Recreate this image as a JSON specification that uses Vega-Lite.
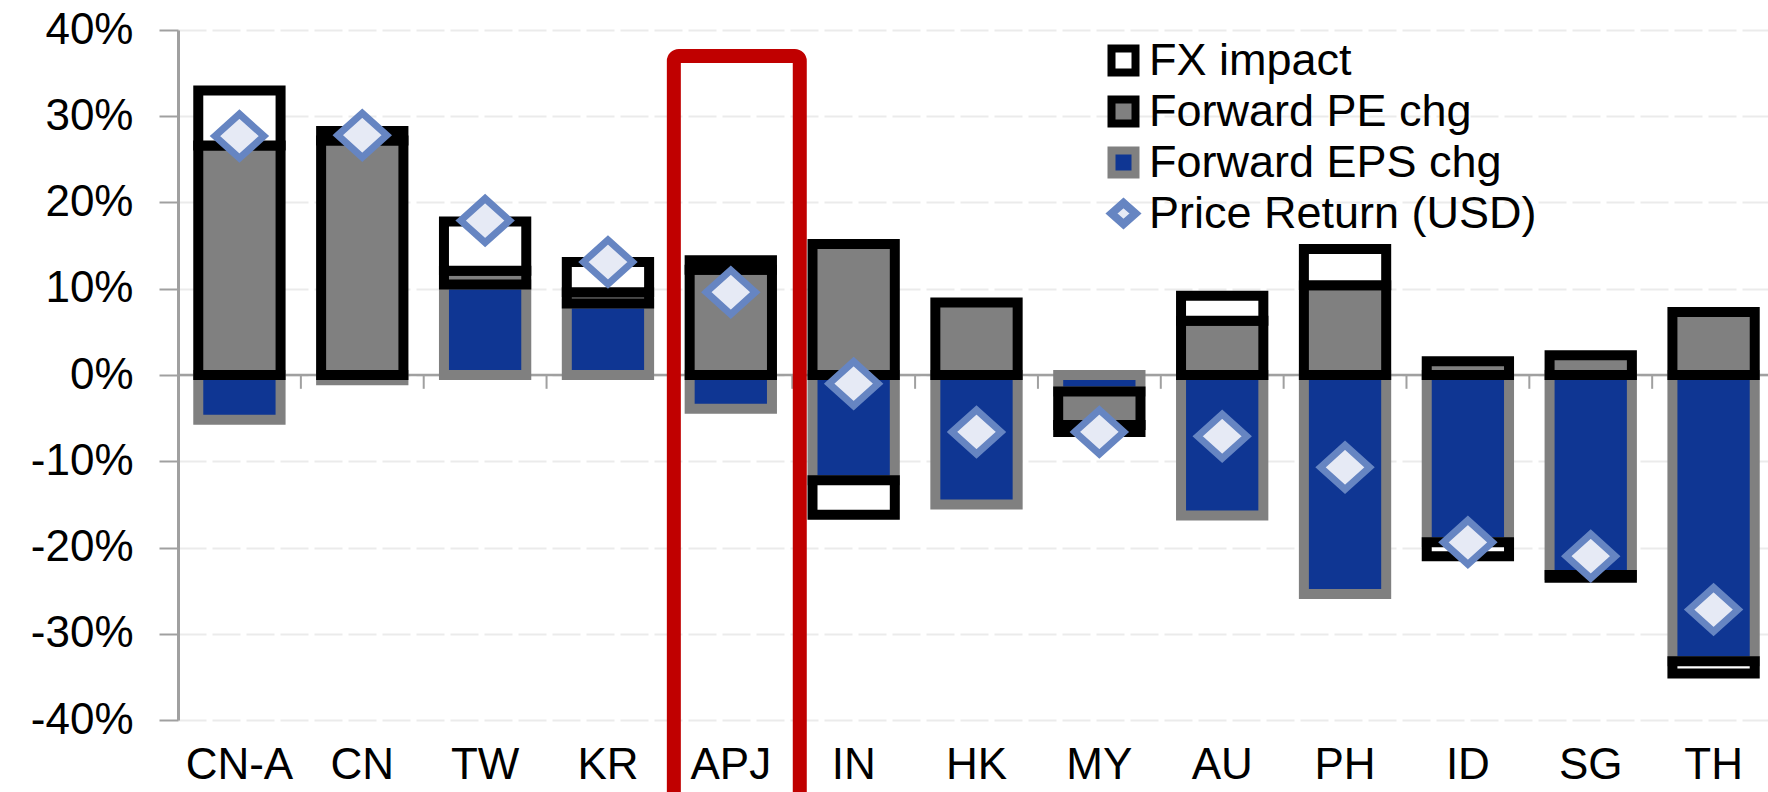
{
  "$schema": "https://vega.github.io/schema/vega-lite/v6.json",
  "width": 1597,
  "height": 690,
  "autosize": {"type": "none"},
  "padding": {"left": 178, "top": 30, "right": 0, "bottom": 72},
  "background": "white",
  "config": {
    "font": "Liberation Sans",
    "view": {"stroke": null}
  },
  "datasets": {
    "decomp": [
      {"country": "CN-A", "component": "Forward EPS chg", "ord": 1, "value": -0.052},
      {"country": "CN", "component": "Forward EPS chg", "ord": 1, "value": -0.006},
      {"country": "TW", "component": "Forward EPS chg", "ord": 1, "value": 0.105},
      {"country": "KR", "component": "Forward EPS chg", "ord": 1, "value": 0.083},
      {"country": "APJ", "component": "Forward EPS chg", "ord": 1, "value": -0.039},
      {"country": "IN", "component": "Forward EPS chg", "ord": 1, "value": -0.122},
      {"country": "HK", "component": "Forward EPS chg", "ord": 1, "value": -0.150},
      {"country": "MY", "component": "Forward EPS chg", "ord": 1, "value": -0.019},
      {"country": "AU", "component": "Forward EPS chg", "ord": 1, "value": -0.163},
      {"country": "PH", "component": "Forward EPS chg", "ord": 1, "value": -0.254},
      {"country": "ID", "component": "Forward EPS chg", "ord": 1, "value": -0.194},
      {"country": "SG", "component": "Forward EPS chg", "ord": 1, "value": -0.232},
      {"country": "TH", "component": "Forward EPS chg", "ord": 1, "value": -0.332},
      {"country": "CN-A", "component": "Forward PE chg", "ord": 2, "value": 0.266},
      {"country": "CN", "component": "Forward PE chg", "ord": 2, "value": 0.272},
      {"country": "TW", "component": "Forward PE chg", "ord": 2, "value": 0.016},
      {"country": "KR", "component": "Forward PE chg", "ord": 2, "value": 0.013},
      {"country": "APJ", "component": "Forward PE chg", "ord": 2, "value": 0.122},
      {"country": "IN", "component": "Forward PE chg", "ord": 2, "value": 0.152},
      {"country": "HK", "component": "Forward PE chg", "ord": 2, "value": 0.084},
      {"country": "MY", "component": "Forward PE chg", "ord": 2, "value": -0.039},
      {"country": "AU", "component": "Forward PE chg", "ord": 2, "value": 0.063},
      {"country": "PH", "component": "Forward PE chg", "ord": 2, "value": 0.104},
      {"country": "ID", "component": "Forward PE chg", "ord": 2, "value": 0.016},
      {"country": "SG", "component": "Forward PE chg", "ord": 2, "value": 0.023},
      {"country": "TH", "component": "Forward PE chg", "ord": 2, "value": 0.073},
      {"country": "CN-A", "component": "FX impact", "ord": 3, "value": 0.064},
      {"country": "CN", "component": "FX impact", "ord": 3, "value": 0.011},
      {"country": "TW", "component": "FX impact", "ord": 3, "value": 0.057},
      {"country": "KR", "component": "FX impact", "ord": 3, "value": 0.035},
      {"country": "APJ", "component": "FX impact", "ord": 3, "value": 0.011},
      {"country": "IN", "component": "FX impact", "ord": 3, "value": -0.040},
      {"country": "MY", "component": "FX impact", "ord": 3, "value": -0.008},
      {"country": "AU", "component": "FX impact", "ord": 3, "value": 0.029},
      {"country": "PH", "component": "FX impact", "ord": 3, "value": 0.042},
      {"country": "ID", "component": "FX impact", "ord": 3, "value": -0.016},
      {"country": "SG", "component": "FX impact", "ord": 3, "value": -0.003},
      {"country": "TH", "component": "FX impact", "ord": 3, "value": -0.014},
      {"country": "CN-A", "component": "Price Return (USD)", "ord": 4, "value": 0.277},
      {"country": "CN", "component": "Price Return (USD)", "ord": 4, "value": 0.278},
      {"country": "TW", "component": "Price Return (USD)", "ord": 4, "value": 0.179},
      {"country": "KR", "component": "Price Return (USD)", "ord": 4, "value": 0.131},
      {"country": "APJ", "component": "Price Return (USD)", "ord": 4, "value": 0.096},
      {"country": "IN", "component": "Price Return (USD)", "ord": 4, "value": -0.010},
      {"country": "HK", "component": "Price Return (USD)", "ord": 4, "value": -0.066},
      {"country": "MY", "component": "Price Return (USD)", "ord": 4, "value": -0.066},
      {"country": "AU", "component": "Price Return (USD)", "ord": 4, "value": -0.071},
      {"country": "PH", "component": "Price Return (USD)", "ord": 4, "value": -0.107},
      {"country": "ID", "component": "Price Return (USD)", "ord": 4, "value": -0.194},
      {"country": "SG", "component": "Price Return (USD)", "ord": 4, "value": -0.210},
      {"country": "TH", "component": "Price Return (USD)", "ord": 4, "value": -0.272}
    ],
    "highlight": [
      {"country": "APJ", "top": 0.37, "bottom": -0.5}
    ],
    "baseline": [
      {"level": 0}
    ]
  },
  "layer": [
    {
      "data": {"name": "baseline"},
      "mark": {"type": "rule", "color": "#A0A0A0", "strokeWidth": 2.5},
      "encoding": {
        "y": {"field": "level", "type": "quantitative", "title": null,
              "scale": {"domain": [-0.4, 0.4], "nice": false},
              "axis": {"title": null, "values": [-0.4, -0.3, -0.2, -0.1, 0, 0.1, 0.2, 0.3, 0.4], "format": ".0%",
                       "labelExpr": "replace(datum.label, '\u2212', '-')",
                       "labelFont": "Liberation Sans", "labelFontSize": 44, "labelColor": "#000000", "labelPadding": 26,
                       "domainColor": "#A0A0A0", "domainWidth": 3, "tickColor": "#A0A0A0", "tickWidth": 2, "tickSize": 19,
                       "grid": true, "gridColor": "#EBEBEB", "gridWidth": 2, "gridDash": [28, 6]}}
      }
    },
    {
      "data": {"name": "decomp"},
      "transform": [{"filter": "datum.component === 'Price Return (USD)'"}],
      "mark": {"type": "rule", "color": "#A0A0A0", "strokeWidth": 2},
      "encoding": {
        "x": {"field": "country", "type": "nominal", "bandPosition": -0.246, "title": null,
              "scale": {"domain": ["CN-A", "CN", "TW", "KR", "APJ", "IN", "HK", "MY", "AU", "PH", "ID", "SG", "TH"], "paddingInner": 0.33, "paddingOuter": 0.165},
              "axis": {"title": null, "orient": "bottom", "bandPosition": 0.5, "domain": false, "ticks": false, "labelAngle": 0,
                       "labelFont": "Liberation Sans", "labelFontSize": 44, "labelColor": "#000000", "labelPadding": 23, "grid": false}},
        "y": {"datum": 0},
        "y2": {"datum": -0.016}
      }
    },
    {
      "data": {"name": "decomp"},
      "transform": [{"filter": "datum.component !== 'Price Return (USD)'"}],
      "mark": {"type": "bar", "strokeWidth": 10},
      "encoding": {
        "x": {"field": "country", "type": "nominal", "title": null,
              "scale": {"domain": ["CN-A", "CN", "TW", "KR", "APJ", "IN", "HK", "MY", "AU", "PH", "ID", "SG", "TH"], "paddingInner": 0.33, "paddingOuter": 0.165}},
        "y": {"field": "value", "type": "quantitative", "stack": "zero", "title": null,
              "scale": {"domain": [-0.4, 0.4], "nice": false}},
        "order": {"field": "ord", "type": "quantitative"},
        "fill": {"field": "component", "type": "nominal",
                 "scale": {"domain": ["FX impact", "Forward PE chg", "Forward EPS chg", "Price Return (USD)"], "range": ["#FFFFFF", "#808080", "#0F3693", "#E6EAF5"]},
                 "legend": {"title": null, "orient": "none", "legendX": 923, "legendY": 8, "padding": 0,
                            "labelFont": "Liberation Sans", "labelFontSize": 45, "labelColor": "#000000", "labelOffset": 3, "labelLimit": 1000,
                            "rowPadding": -9, "symbolSize": 576, "symbolStrokeWidth": 8,
                            "encode": {"symbols": {"update": {
                              "shape": {"signal": "datum.value === 'Price Return (USD)' ? 'M-1,0L0,-0.88L1,0L0,0.88Z' : 'square'"},
                              "strokeWidth": {"value": 8}}}}}},
        "stroke": {"field": "component", "type": "nominal",
                   "scale": {"domain": ["FX impact", "Forward PE chg", "Forward EPS chg", "Price Return (USD)"], "range": ["#000000", "#000000", "#808080", "#6685C2"]},
                   "legend": {"title": null, "orient": "none", "legendX": 923, "legendY": 8, "padding": 0,
                              "labelFont": "Liberation Sans", "labelFontSize": 45, "labelColor": "#000000", "labelOffset": 3, "labelLimit": 1000,
                              "rowPadding": -9, "symbolSize": 576, "symbolStrokeWidth": 8,
                              "encode": {"symbols": {"update": {
                                "shape": {"signal": "datum.value === 'Price Return (USD)' ? 'M-1,0L0,-0.88L1,0L0,0.88Z' : 'square'"},
                                "strokeWidth": {"value": 8}}}}}}
      }
    },
    {
      "data": {"name": "decomp"},
      "transform": [{"filter": "datum.component === 'Price Return (USD)'"}],
      "mark": {"type": "point", "shape": "M-1,0L0,-0.9L1,0L0,0.9Z", "size": 2401, "filled": true, "strokeWidth": 7, "opacity": 1},
      "encoding": {
        "x": {"field": "country", "type": "nominal", "title": null,
              "scale": {"domain": ["CN-A", "CN", "TW", "KR", "APJ", "IN", "HK", "MY", "AU", "PH", "ID", "SG", "TH"], "paddingInner": 0.33, "paddingOuter": 0.165}},
        "y": {"field": "value", "type": "quantitative", "title": null, "scale": {"domain": [-0.4, 0.4], "nice": false}},
        "fill": {"field": "component", "type": "nominal", "legend": null},
        "stroke": {"field": "component", "type": "nominal", "legend": null}
      }
    },
    {
      "data": {"name": "highlight"},
      "mark": {"type": "bar", "fill": "transparent", "stroke": "#C00000", "strokeWidth": 14, "cornerRadius": 5, "width": {"band": 1.53}, "xOffset": 6},
      "encoding": {
        "x": {"field": "country", "type": "nominal", "title": null,
              "scale": {"domain": ["CN-A", "CN", "TW", "KR", "APJ", "IN", "HK", "MY", "AU", "PH", "ID", "SG", "TH"], "paddingInner": 0.33, "paddingOuter": 0.165}},
        "y": {"field": "top", "type": "quantitative", "title": null, "scale": {"domain": [-0.4, 0.4], "nice": false}},
        "y2": {"field": "bottom"}
      }
    }
  ]
}
